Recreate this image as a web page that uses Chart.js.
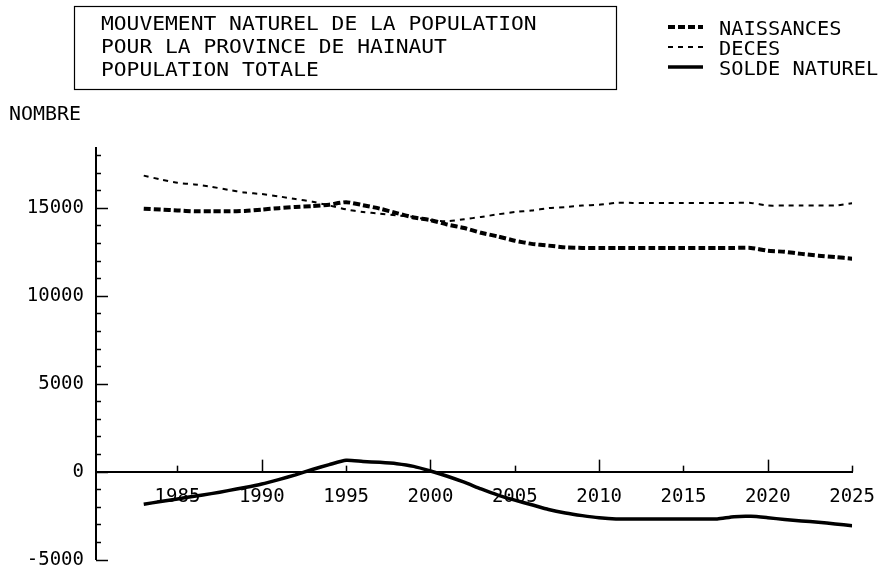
<!DOCTYPE html>
<html><head><meta charset="utf-8">
<script src="https://cdn.jsdelivr.net/npm/chart.js@4.4.1/dist/chart.umd.min.js"></script>
<style>html,body{margin:0;padding:0;background:#fff;}#wrap{width:889px;height:583px;position:relative;}</style>
</head><body><div id="wrap"><canvas id="c" width="889" height="583"></canvas></div>
<script>
const titleLines = ['MOUVEMENT NATUREL DE LA POPULATION', 'POUR LA PROVINCE DE HAINAUT', 'POPULATION TOTALE'];
const yAxisTitle = 'NOMBRE';
const seriesLabels = ['NAISSANCES', 'DECES', 'SOLDE NATUREL'];
const years = [1983,1984,1985,1986,1987,1988,1989,1990,1991,1992,1993,1994,1995,1996,1997,1998,1999,2000,2001,2002,2003,2004,2005,2006,2007,2008,2009,2010,2011,2012,2013,2014,2015,2016,2017,2018,2019,2020,2021,2022,2023,2024,2025];
const naissances = [14950,14900,14850,14800,14800,14800,14820,14900,14980,15050,15100,15180,15320,15150,14950,14700,14450,14300,14050,13850,13580,13370,13130,12950,12850,12750,12720,12720,12720,12720,12720,12720,12720,12720,12720,12720,12720,12560,12500,12380,12280,12200,12110];
const deces = [16830,16610,16420,16330,16200,16020,15870,15780,15650,15500,15350,15130,14910,14760,14670,14570,14480,14300,14240,14350,14480,14630,14760,14850,14980,15040,15130,15170,15280,15280,15280,15280,15280,15280,15280,15280,15280,15130,15130,15130,15130,15130,15260];
const soldeNaturel = [-1850,-1700,-1550,-1400,-1250,-1080,-900,-700,-450,-180,120,400,650,580,530,450,300,40,-260,-600,-980,-1330,-1620,-1880,-2150,-2350,-2500,-2620,-2690,-2690,-2690,-2690,-2690,-2690,-2690,-2560,-2540,-2620,-2720,-2800,-2880,-2970,-3070];
const xTickYears = [1985,1990,1995,2000,2005,2010,2015,2020,2025];
const yTickValues = [-5000,0,5000,10000,15000];
const yMinorTicks = [-5000,-4000,-3000,-2000,-1000,0,1000,2000,3000,4000,5000,6000,7000,8000,9000,10000,11000,12000,13000,14000,15000,16000,17000,18000];

const FONT = 'DejaVu Sans Mono';
Chart.defaults.font.family = FONT;
Chart.defaults.color = '#000';

function pts(vals) { return years.map((yr, i) => ({x: yr, y: vals[i]})); }

function scaledText(ctx, s, x, y, sx) {
  ctx.save(); ctx.translate(x, y); ctx.scale(sx, 1); ctx.fillText(s, 0, 0); ctx.restore();
}

const decor = {
  id: 'decor',
  afterDraw(chart) {
    const ctx = chart.ctx;
    const xs = chart.scales.x, ys = chart.scales.y;
    ctx.save();
    ctx.strokeStyle = '#000'; ctx.fillStyle = '#000';
    ctx.lineWidth = 1.5;
    const ax = chart.chartArea.left;
    yMinorTicks.forEach(v => {
      const py = Math.round(ys.getPixelForValue(v)) + 0.5;
      const len = (v % 5000 === 0) ? 12 : 5;
      ctx.beginPath(); ctx.moveTo(ax, py); ctx.lineTo(ax + len, py); ctx.stroke();
    });
    const y0 = ys.getPixelForValue(0);
    xTickYears.forEach(t => {
      const px = Math.round(xs.getPixelForValue(t)) + 0.5;
      const len = (t % 10 === 0) ? 12 : 6;
      ctx.beginPath(); ctx.moveTo(px, y0); ctx.lineTo(px, y0 - len); ctx.stroke();
    });
    // title box
    ctx.lineWidth = 1.2;
    ctx.strokeRect(74.5, 6.5, 542, 83);
    ctx.font = '19px ' + FONT;
    ctx.textBaseline = 'middle'; ctx.textAlign = 'left';
    const ty = [25, 48, 71];
    titleLines.forEach((s, i) => scaledText(ctx, s, 101, ty[i], 1.12));
    scaledText(ctx, yAxisTitle, 9, 115, 1.05);
    // legend
    const ly = [30, 50, 70];
    chart.data.datasets.forEach((ds, i) => {
      ctx.save();
      ctx.lineWidth = ds.borderWidth;
      ctx.setLineDash(ds.borderDash || []);
      ctx.beginPath(); ctx.moveTo(668, ly[i] - 3); ctx.lineTo(703, ly[i] - 3); ctx.stroke();
      ctx.restore();
      scaledText(ctx, ds.label, 719, ly[i], 1.07);
    });
    ctx.restore();
  }
};

new Chart(document.getElementById('c'), {
  type: 'line',
  data: {
    datasets: [
      {label: seriesLabels[0], data: pts(naissances), borderColor: '#000', borderWidth: 4, borderDash: [7, 3], pointRadius: 0, tension: 0.2, fill: false},
      {label: seriesLabels[1], data: pts(deces), borderColor: '#000', borderWidth: 2, borderDash: [5, 5], pointRadius: 0, tension: 0.2, fill: false},
      {label: seriesLabels[2], data: pts(soldeNaturel), borderColor: '#000', borderWidth: 3.5, borderDash: [], pointRadius: 0, tension: 0.2, fill: false}
    ]
  },
  options: {
    responsive: false, animation: false,
    layout: {padding: {top: 148, right: 35, bottom: 14, left: 0}},
    plugins: {legend: {display: false}, title: {display: false}, tooltip: {enabled: false}},
    scales: {
      x: {
        type: 'linear', position: {y: 0}, min: 1980.17, max: 2025,
        afterBuildTicks: s => { s.ticks = xTickYears.map(v => ({value: v})); },
        grid: {display: false, drawTicks: false},
        border: {display: true, color: '#000', width: 2},
        ticks: {font: {size: 19}, color: '#000', padding: 14, maxRotation: 0, autoSkip: false, callback: v => String(v)}
      },
      y: {
        type: 'linear', min: -5000, max: 18400,
        afterBuildTicks: s => { s.ticks = yTickValues.map(v => ({value: v})); },
        afterFit: s => { s.width = 96; },
        grid: {display: false, drawTicks: false},
        border: {display: true, color: '#000', width: 2},
        ticks: {font: {size: 19}, color: '#000', padding: 12, autoSkip: false, callback: v => String(v)}
      }
    }
  },
  plugins: [decor]
});
</script></body></html>
